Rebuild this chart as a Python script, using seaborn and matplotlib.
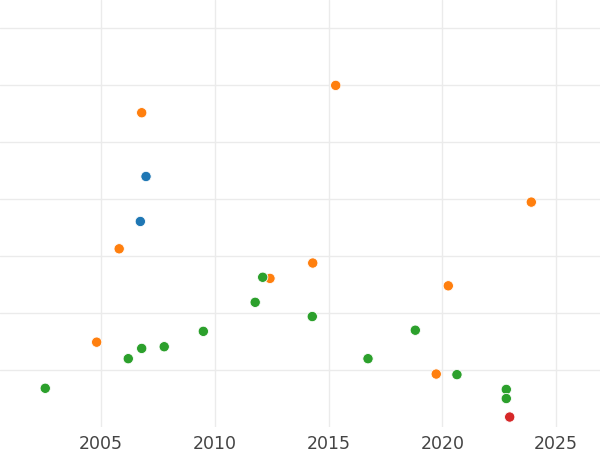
import numpy as np
import pandas as pd
import matplotlib
matplotlib.use("Agg")
import matplotlib.pyplot as plt
import seaborn as sns

# Values (year, value, group)
years = [2006.97, 2006.72,
         2006.78, 2015.31, 2023.91, 2005.79, 2012.42, 2004.80, 2014.30, 2020.26, 2019.73,
         2012.10, 2011.77, 2009.49, 2006.78, 2007.77, 2006.19, 2002.54, 2014.28, 2018.81,
         2016.73, 2020.64, 2022.81, 2022.81,
         2022.96]
values = [44.0, 36.1,
          55.2, 60.0, 39.5, 31.3, 26.1, 14.9, 28.8, 24.8, 9.3,
          26.3, 21.9, 16.8, 13.8, 14.1, 12.0, 6.8, 19.4, 17.0,
          12.0, 9.2, 6.6, 5.0,
          1.75]
groups = (["A"] * 2 + ["B"] * 9 + ["C"] * 13 + ["D"] * 1)
group_order = ["A", "B", "C", "D"]
year_ticks = [2005, 2010, 2015, 2020, 2025]
value_ticks = [10, 20, 30, 40, 50, 60, 70]

df = pd.DataFrame({"year": years, "value": values, "group": groups})

sns.set_theme(style="whitegrid")
plt.rcParams['font.family'] = ['DejaVu Sans']

fig = plt.figure(figsize=(6, 4.5), dpi=100)
ax = fig.add_axes([0, 23 / 450, 1, 427 / 450])

sns.scatterplot(data=df, x="year", y="value", hue="group", hue_order=group_order,
                palette=sns.color_palette("tab10", 4), s=55, edgecolor="white",
                linewidth=0.6, legend=False, ax=ax)

ax.set_xlim(2000.55, 2026.93)
ax.set_ylim(0, 75)
ax.set_xticks(year_ticks)
ax.set_yticks(value_ticks)
ax.set_yticklabels([])
ax.set_xlabel("")
ax.set_ylabel("")
ax.grid(True, color="#ebebeb", linewidth=1)
ax.tick_params(axis="x", labelsize=12.5, labelcolor="#444444", length=0, pad=6)
ax.tick_params(axis="y", length=0)
for side in ax.spines.values():
    side.set_visible(False)

fig.savefig("out.png", dpi=100)
